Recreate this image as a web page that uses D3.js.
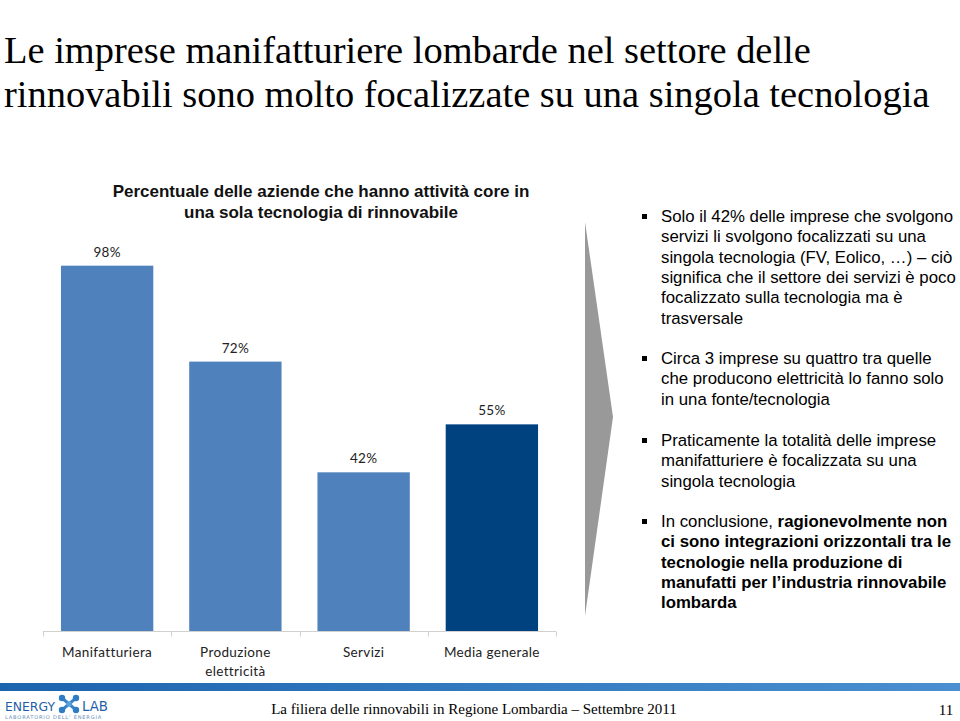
<!DOCTYPE html>
<html><head><meta charset="utf-8">
<script src="https://cdn.jsdelivr.net/npm/d3@7"></script>
<style>body{margin:0;background:#fff}svg{display:block}</style>
</head><body>
<svg id="c" width="960" height="721"></svg>
<script>
const categories = ["Manifatturiera", "Produzione\nelettricità", "Servizi", "Media generale"];
const values = [98, 72, 42, 55];
const valueLabels = ["98%", "72%", "42%", "55%"];
const barColors = ["#4f81bd", "#4f81bd", "#4f81bd", "#00427f"];
const titleLines = ["Le imprese manifatturiere lombarde nel settore delle",
                    "rinnovabili sono molto focalizzate su una singola tecnologia"];
const chartTitleLines = ["Percentuale delle aziende che hanno attività core in",
                         "una sola tecnologia di rinnovabile"];
const bullets = [
  [[["Solo il 42% delle imprese che svolgono",0]],[["servizi li svolgono focalizzati su una",0]],
   [["singola tecnologia (FV, Eolico, …) – ciò",0]],[["significa che il settore dei servizi è poco",0]],
   [["focalizzato sulla tecnologia ma è",0]],[["trasversale",0]]],
  [[["Circa 3 imprese su quattro tra quelle",0]],[["che producono elettricità lo fanno solo",0]],
   [["in una fonte/tecnologia",0]]],
  [[["Praticamente la totalità delle imprese",0]],[["manifatturiere è focalizzata su una",0]],
   [["singola tecnologia",0]]],
  [[["In conclusione, ",0],["ragionevolmente non",1]],[["ci sono integrazioni orizzontali tra le",1]],
   [["tecnologie nella produzione di",1]],[["manufatti per l’industria rinnovabile",1]],[["lombarda",1]]]
];
const bulletTops = [216, 358, 440, 521];
const footerText = "La filiera delle rinnovabili in Regione Lombardia – Settembre 2011";
const pageNumber = "11";

const svg = d3.select("#c");
const SANS = "'Liberation Sans', Arial, sans-serif";
const LABEL = "Lato, 'Open Sans', sans-serif";

function fitText(sel, target) {
  const w = sel.node().getComputedTextLength();
  const fs = parseFloat(sel.attr("font-size"));
  sel.attr("font-size", fs * target / w);
}

// Main title
const l1 = svg.append("text").attr("x", 4).attr("y", 63).attr("font-family", "'Liberation Serif', serif")
  .attr("font-size", 32).attr("fill", "#000").text(titleLines[0]);
const l2 = svg.append("text").attr("x", 4).attr("y", 107).attr("font-family", "'Liberation Serif', serif")
  .attr("font-size", 32).attr("fill", "#000").text(titleLines[1]);
fitText(l2, 926);
l1.attr("font-size", l2.attr("font-size"));

// Chart title
const ct = chartTitleLines.map((t, i) =>
  svg.append("text").attr("x", 321).attr("y", 197 + i * 21).attr("text-anchor", "middle")
    .attr("font-family", SANS).attr("font-weight", "bold")
    .attr("font-size", 14.5).attr("fill", "#111").text(t));
fitText(ct[0], 417);
ct[1].attr("font-size", ct[0].attr("font-size"));

// Bars
const x = d3.scaleBand().domain(categories).range([43, 556]).paddingInner(0.28).paddingOuter(0.14);
const y = d3.scaleLinear().domain([-1, 100]).range([631, 258.3]);

svg.append("g").selectAll("rect").data(values).join("rect")
  .attr("x", (d, i) => x(categories[i]))
  .attr("width", x.bandwidth())
  .attr("y", d => y(d))
  .attr("height", d => y(-1) - y(d))
  .attr("fill", (d, i) => barColors[i]);

svg.append("g").selectAll("text").data(values).join("text")
  .attr("x", (d, i) => x(categories[i]) + x.bandwidth() / 2)
  .attr("y", d => y(d) - 9)
  .attr("text-anchor", "middle")
  .attr("font-family", LABEL).attr("font-size", 13.5).attr("letter-spacing", 0.3).attr("fill", "#222")
  .text((d, i) => valueLabels[i]);

// Axis
const axisG = svg.append("g").attr("transform", "translate(0,631.5)");
axisG.append("line").attr("x1", 43).attr("x2", 556).attr("stroke", "#d0d0d0").attr("stroke-width", 1);
const tickXs = d3.range(categories.length + 1).map(i => 43 + i * (556 - 43) / categories.length);
axisG.selectAll("line.t").data(tickXs).join("line").attr("class", "t")
  .attr("x1", d => Math.round(d) + 0.5).attr("x2", d => Math.round(d) + 0.5)
  .attr("y1", 0).attr("y2", 5).attr("stroke", "#d0d0d0");
categories.forEach((c, i) => {
  const cx = x(c) + x.bandwidth() / 2;
  c.split("\n").forEach((ln, j) => {
    axisG.append("text").attr("x", cx).attr("y", 25 + j * 19).attr("text-anchor", "middle")
      .attr("font-family", LABEL).attr("font-size", 13.5).attr("letter-spacing", 0.35).attr("fill", "#222")
      .text(ln);
  });
});

// Arrow shape
svg.append("path").attr("d", "M585,222 L613,417 L585,616 Z").attr("fill", "#999");

// Bullets
bullets.forEach((blk, bi) => {
  const top = bulletTops[bi];
  svg.append("rect").attr("x", 642).attr("y", top - 2).attr("width", 5).attr("height", 5).attr("fill", "#000");
  blk.forEach((line, li) => {
    const t = svg.append("text").attr("x", 661).attr("y", top + 6 + li * 20.3)
      .attr("font-family", SANS).attr("font-size", 16.8).attr("fill", "#000");
    line.forEach(([s, b]) => t.append("tspan").attr("font-weight", b ? "bold" : "normal").text(s));
  });
});

// Footer band
const grad = svg.append("defs").append("linearGradient").attr("id", "fb");
grad.append("stop").attr("offset", "0%").attr("stop-color", "#1b64ae");
grad.append("stop").attr("offset", "100%").attr("stop-color", "#4a90d0");
svg.append("rect").attr("x", 0).attr("y", 683).attr("width", 960).attr("height", 8).attr("fill", "url(#fb)");
svg.append("text").attr("x", 474).attr("y", 714).attr("text-anchor", "middle")
  .attr("font-family", "'Liberation Serif', serif").attr("font-size", 15).attr("fill", "#000").text(footerText);
svg.append("text").attr("x", 946).attr("y", 715).attr("text-anchor", "middle")
  .attr("font-family", "'Liberation Serif', serif").attr("font-size", 15).attr("fill", "#000").text(pageNumber);

// Logo
const lg = svg.append("g");
const e1 = lg.append("text").attr("x", 5).attr("y", 711).attr("font-family", "'DejaVu Sans', sans-serif").attr("font-size", 11)
  .attr("fill", "#1f5fa8").text("ENERGY");
fitText(e1, 50);
const e2 = lg.append("text").attr("x", 82).attr("y", 711).attr("font-family", "'DejaVu Sans', sans-serif").attr("font-size", 11)
  .attr("fill", "#1f5fa8").text("LAB");
fitText(e2, 26);
const e3 = lg.append("text").attr("x", 5).attr("y", 719).attr("font-family", "'DejaVu Sans', sans-serif").attr("font-size", 4)
  .attr("letter-spacing", 0.8).attr("fill", "#6a8fb8").text("LABORATORIO DELL' ENERGIA");
fitText(e3, 103);
const cx0 = 69, cy0 = 704;
[[-7,-6],[7,-6],[-7,6],[7,6]].forEach(([dx,dy]) => {
  lg.append("line").attr("x1", cx0).attr("y1", cy0).attr("x2", cx0+dx).attr("y2", cy0+dy)
    .attr("stroke", "#3b86c8").attr("stroke-width", 3);
  lg.append("circle").attr("cx", cx0+dx).attr("cy", cy0+dy).attr("r", 3.2).attr("fill", "#2e7cc4");
});
lg.append("circle").attr("cx", cx0).attr("cy", cy0).attr("r", 2.5).attr("fill", "#5aa0dc");
</script>
</body></html>
